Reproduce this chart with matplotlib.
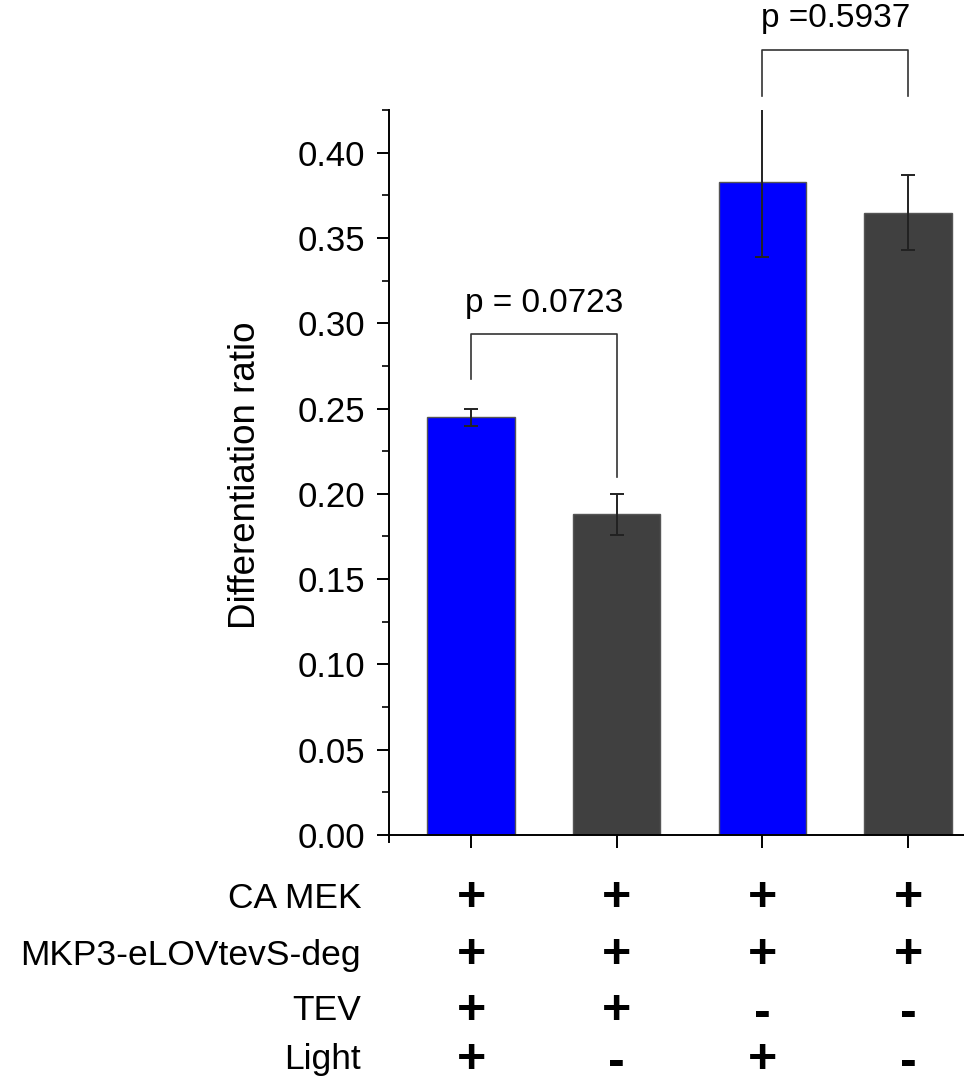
import matplotlib
matplotlib.use("Agg")
import matplotlib.pyplot as plt

plt.rcParams['font.family'] = ['Liberation Sans', 'DejaVu Sans']

# ---- data ----
groups = [0, 1, 2, 3]
values = [0.245, 0.188, 0.3826, 0.3647]
errors = [0.005, 0.012, 0.0435, 0.022]
bar_colors = ['#0000FF', '#404040', '#0000FF', '#404040']
yticks = [0.00, 0.05, 0.10, 0.15, 0.20, 0.25, 0.30, 0.35, 0.40]
ylabel = 'Differentiation ratio'
row_labels = ['CA MEK', 'MKP3-eLOVtevS-deg', 'TEV', 'Light']
row_signs = [['+', '+', '+', '+'],
             ['+', '+', '+', '+'],
             ['+', '+', '-', '-'],
             ['+', '-', '+', '-']]
# brackets: (left group, right group, top, left leg bottom, right leg bottom, text)
brackets = [(0, 1, 0.2937, 0.2676, 0.2098, 'p = 0.0723'),
            (2, 3, 0.4603, 0.4334, 0.4334, 'p =0.5937')]

W, H = 964, 1089
fig = plt.figure(figsize=(W / 100, H / 100), dpi=100)
ax_left, ax_right, ax_top, ax_bot = 389, 964, 110, 835
ax = fig.add_axes([ax_left / W, 1 - ax_bot / H, (ax_right - ax_left) / W, (ax_bot - ax_top) / H])

ax.bar(groups, values, width=0.6, color=bar_colors, edgecolor='#555555', linewidth=1.0, zorder=2)
ax.errorbar(groups, values, yerr=errors, fmt='none', ecolor='#222222', elinewidth=1.4,
            capsize=5, capthick=1.4, zorder=3)

ax.set_xlim(-0.563, 3.384)
ax.set_ylim(0, 0.425)
ax.set_yticks(yticks)
ax.set_yticklabels([f'{v:.2f}' for v in yticks])
ax.set_yticks([0.025 + 0.05 * i for i in range(9)], minor=True)
ax.set_xticks(groups)
ax.set_xticklabels([])

for s in ['top', 'right']:
    ax.spines[s].set_visible(False)
ax.spines['left'].set_linewidth(1.4)
ax.spines['bottom'].set_linewidth(1.4)
ax.spines['left'].set_bounds(-0.004, 0.425)
ax.tick_params(axis='y', which='major', length=9, width=1.4, labelsize=25, pad=8)
ax.tick_params(axis='y', which='minor', length=5, width=1.2)
ax.tick_params(axis='x', which='major', length=9, width=1.4)

fig.text(246 / W, 1 - 475 / H, ylabel, rotation=90, ha='center', va='center', fontsize=26.5)

for (a, b, top, lb, rb, txt) in brackets:
    ax.plot([a, a, b, b], [lb, top, top, rb], color='#333333', lw=1.2, clip_on=False, zorder=4)
    ax.text((a + b) / 2, top + 0.009, txt, ha='center', va='bottom', fontsize=24, clip_on=False)

row_y = [898, 955, 1011, 1060]
for ry, lab, signs in zip(row_y, row_labels, row_signs):
    fig.text(361 / W, 1 - ry / H, lab, ha='right', va='center', fontsize=25.5)
    for g, sg in zip(groups, signs):
        xf = ax.transData.transform((g, 0))[0] / W
        if sg == '+':
            fig.text(xf, 1 - ry / H, '+', ha='center', va='center', fontsize=36, fontweight='bold')
        else:
            fig.text(xf, 1 - (ry + 3) / H, '-', ha='center', va='center', fontsize=36, fontweight='bold')

fig.savefig('out.png', dpi=100)
